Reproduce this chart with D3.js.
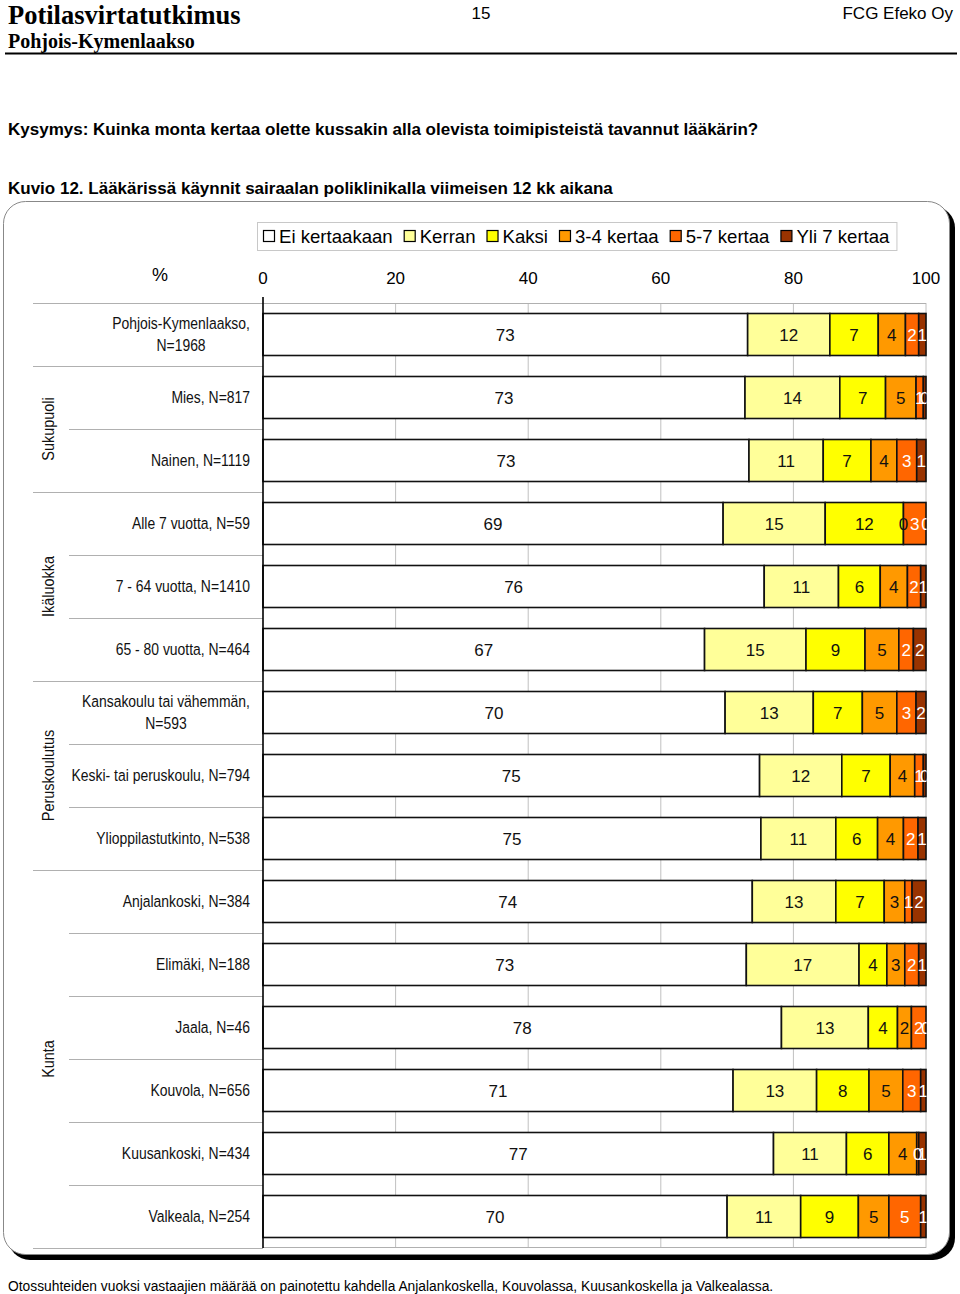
<!DOCTYPE html>
<html>
<head>
<meta charset="utf-8">
<script src="https://cdn.jsdelivr.net/npm/d3@7"></script>
<style>
  body { margin: 0; background: #fff; }
  svg { display: block; }
</style>
</head>
<body>
<svg id="chart" width="960" height="1294"></svg>
<script>
// rows of the chart, top to bottom
const categories = [
  "Pohjois-Kymenlaakso,\nN=1968",
  "Mies, N=817", "Nainen, N=1119",
  "Alle 7 vuotta, N=59", "7 - 64 vuotta, N=1410", "65 - 80 vuotta, N=464",
  "Kansakoulu tai vähemmän,\nN=593", "Keski- tai peruskoulu, N=794", "Ylioppilastutkinto, N=538",
  "Anjalankoski, N=384", "Elimäki, N=188", "Jaala, N=46", "Kouvola, N=656",
  "Kuusankoski, N=434", "Valkeala, N=254"
];
const groupNames = ["", "Sukupuoli", "Ikäluokka", "Peruskoulutus", "Kunta"];
const rowGroup = [0, 1, 1, 2, 2, 2, 3, 3, 3, 4, 4, 4, 4, 4, 4];

const seriesNames = ["Ei kertaakaan", "Kerran", "Kaksi", "3-4 kertaa", "5-7 kertaa", "Yli 7 kertaa"];
const seriesColors = ["#ffffff", "#ffff99", "#ffff00", "#ff9900", "#ff6600", "#993300"];

// percentages per series
const eiKertaakaan = [73.1, 72.7, 73.3, 69.4, 75.6, 66.6, 69.7, 74.9, 75.1, 73.8, 72.9, 78.2, 70.9, 77.0, 70.0];
const kerran       = [12.4, 14.3, 11.2, 15.4, 11.2, 15.3, 13.3, 12.4, 11.3, 12.6, 17.0, 13.1, 12.6, 11.0, 11.1];
const kaksi        = [7.3, 6.9, 7.2, 11.8, 6.3, 8.9, 7.4, 7.3, 6.3, 7.3, 4.2, 4.4, 7.9, 6.4, 8.7];
const kertaa34     = [4.1, 4.6, 3.9, 0, 4.1, 5.1, 5.2, 3.7, 3.9, 3.1, 2.7, 2.1, 5.1, 4.2, 4.6];
const kertaa57     = [2.0, 1.1, 3.0, 3.4, 2.0, 2.2, 2.9, 1.3, 2.2, 1.1, 2.1, 2.2, 2.7, 0.3, 4.8];
const yli7         = [1.1, 0.4, 1.4, 0, 0.8, 1.9, 1.5, 0.4, 1.2, 2.1, 1.1, 0, 0.8, 1.1, 0.8];

const xTicks = [0, 20, 40, 60, 80, 100];

const seriesValues = [eiKertaakaan, kerran, kaksi, kertaa34, kertaa57, yli7];
const table = categories.map((c, i) => {
  const row = { cat: c };
  seriesNames.forEach((s, j) => row[s] = seriesValues[j][i]);
  return row;
});

const svg = d3.select("#chart");
const sans = "'Liberation Sans', Arial, Helvetica, sans-serif";
const serif = "'Liberation Serif', 'Times New Roman', serif";

// no Arial Narrow available: squeeze normal sans horizontally around ax
const condense = (sel, ax, k) =>
  sel.attr("transform", `translate(${ax},0) scale(${k},1) translate(${-ax},0)`);

// ---- page header ----
svg.append("text").attr("x", 8).attr("y", 24)
  .style("font-family", serif).style("font-size", "26.5px").style("font-weight", "bold")
  .text("Potilasvirtatutkimus");
svg.append("text").attr("x", 8).attr("y", 48)
  .style("font-family", serif).style("font-size", "20px").style("font-weight", "bold")
  .text("Pohjois-Kymenlaakso");
svg.append("text").attr("x", 481).attr("y", 19).attr("text-anchor", "middle")
  .style("font-family", sans).style("font-size", "17px").text("15");
svg.append("text").attr("x", 953).attr("y", 19).attr("text-anchor", "end")
  .style("font-family", sans).style("font-size", "17px").text("FCG Efeko Oy");
svg.append("line").attr("x1", 5).attr("x2", 957).attr("y1", 53.5).attr("y2", 53.5)
  .attr("stroke", "#000").attr("stroke-width", 2);

svg.append("text").attr("x", 8).attr("y", 135)
  .style("font-family", sans).style("font-size", "17px").style("font-weight", "bold")
  .text("Kysymys: Kuinka monta kertaa olette kussakin alla olevista toimipisteistä tavannut lääkärin?");
svg.append("text").attr("x", 8).attr("y", 194)
  .style("font-family", sans).style("font-size", "17px").style("font-weight", "bold")
  .text("Kuvio 12. Lääkärissä käynnit sairaalan poliklinikalla viimeisen 12 kk aikana");

svg.append("text").attr("x", 8).attr("y", 1291)
  .style("font-family", sans).style("font-size", "13.8px")
  .text("Otossuhteiden vuoksi vastaajien määrää on painotettu kahdella Anjalankoskella, Kouvolassa, Kuusankoskella ja Valkealassa.");

// ---- frame with shadow ----
svg.append("rect").attr("x", 8).attr("y", 206).attr("width", 947).attr("height", 1054)
  .attr("rx", 22).attr("fill", "#000");
svg.append("rect").attr("x", 3.5).attr("y", 201.5).attr("width", 946).attr("height", 1053)
  .attr("rx", 22).attr("fill", "#fff").attr("stroke", "#888").attr("stroke-width", 1);

// ---- scales ----
const x = d3.scaleLinear().domain([0, 100]).range([263, 926]);
const rows = d3.scaleBand().domain(categories).range([303, 1248]);
const y = d3.scaleBand().domain(categories).range([303, 1248]).paddingInner(1 / 3).paddingOuter(1 / 6);

// ---- legend ----
const legend = svg.append("g");
const legendBox = legend.append("rect").attr("x", 257.5).attr("y", 222.5).attr("height", 28)
  .attr("fill", "#fff").attr("stroke", "#c8c8c8");
let lx = 263;
seriesNames.forEach((s, j) => {
  legend.append("rect").attr("x", lx + 0.5).attr("y", 230.5).attr("width", 11).attr("height", 11)
    .attr("fill", seriesColors[j]).attr("stroke", "#000").attr("stroke-width", 1.2);
  const t = legend.append("text").attr("x", lx + 16).attr("y", 243)
    .style("font-family", sans).style("font-size", "18.6px").text(s);
  lx += 16 + t.node().getComputedTextLength() + 11;
});
legendBox.attr("width", lx - 257 - 4);

// ---- axis labels & grid ----
svg.append("text").attr("x", 160).attr("y", 281).attr("text-anchor", "middle")
  .style("font-family", sans).style("font-size", "18px").text("%");
svg.append("g").selectAll("text").data(xTicks).join("text")
  .attr("x", d => x(d)).attr("y", 284).attr("text-anchor", "middle")
  .style("font-family", sans).style("font-size", "17px").text(d => d);

svg.append("g").selectAll("line").data(xTicks.slice(1)).join("line")
  .attr("x1", d => x(d)).attr("x2", d => x(d)).attr("y1", 303).attr("y2", 1248)
  .attr("stroke", "#c0c0c0").attr("stroke-width", 1);
svg.append("line").attr("x1", 33).attr("x2", x(100)).attr("y1", 303.5).attr("y2", 303.5)
  .attr("stroke", "#b0b0b0");

// row separators on the label side
const seps = categories.slice(1).map((c, i) => ({
  y: rows(c), group: rowGroup[i + 1] !== rowGroup[i]
}));
seps.push({ y: 1248, group: true });
svg.append("g").selectAll("line").data(seps).join("line")
  .attr("x1", d => d.group ? 33 : 69).attr("x2", 263)
  .attr("y1", d => Math.round(d.y) + 0.5).attr("y2", d => Math.round(d.y) + 0.5)
  .attr("stroke", "#b0b0b0").attr("stroke-width", 1.2);
svg.append("line").attr("x1", x(0)).attr("x2", x(100)).attr("y1", 1247.5).attr("y2", 1247.5)
  .attr("stroke", "#b0b0b0");

// ---- bars ----
const stack = d3.stack().keys(seriesNames)(table);
svg.append("clipPath").attr("id", "plotclip").append("rect")
  .attr("x", x(0)).attr("y", 303).attr("width", x(100) - x(0) + 0.5).attr("height", 945);

const layer = svg.append("g").selectAll("g").data(stack).join("g")
  .attr("fill", (d, j) => seriesColors[j]);
layer.selectAll("rect").data(d => d).join("rect")
  .attr("x", d => x(d[0])).attr("width", d => x(d[1]) - x(d[0]))
  .attr("y", d => y(d.data.cat)).attr("height", y.bandwidth())
  .attr("stroke", "#111").attr("stroke-width", 1.6);

const labels = svg.append("g").attr("clip-path", "url(#plotclip)");
stack.forEach((s, j) => {
  labels.selectAll(null).data(s).join("text")
    .attr("x", d => (x(d[0]) + x(d[1])) / 2)
    .attr("y", d => y(d.data.cat) + y.bandwidth() / 2 + 6)
    .attr("text-anchor", "middle")
    .attr("fill", j >= 4 ? "#fff" : "#111")
    .style("font-family", sans).style("font-size", "17px")
    .text(d => Math.round(d[1] - d[0]));
});

// left axis line
svg.append("line").attr("x1", x(0)).attr("x2", x(0)).attr("y1", 297).attr("y2", 1248)
  .attr("stroke", "#000").attr("stroke-width", 1.6);

// ---- row labels ----
const squeeze = 0.82;
categories.forEach(c => {
  const lines = c.split("\n");
  const cy = rows(c) + rows.bandwidth() / 2;
  const t = svg.append("text")
    .style("font-family", sans).style("font-size", "17px").attr("fill", "#111");
  lines.forEach((ln, k) => {
    t.append("tspan").attr("y", cy + 6 + (k - (lines.length - 1) / 2) * 22).text(ln);
  });
  if (lines.length === 1) {
    t.attr("text-anchor", "end").selectAll("tspan").attr("x", 250);
    condense(t, 250, squeeze);
  } else {
    const w = d3.max(t.selectAll("tspan").nodes(), n => n.getComputedTextLength()) * squeeze;
    const cx = 250 - w / 2;
    t.attr("text-anchor", "middle").selectAll("tspan").attr("x", cx);
    condense(t, cx, squeeze);
  }
});

// ---- group labels (rotated) ----
groupNames.forEach((g, gi) => {
  if (!g) return;
  const members = categories.filter((c, i) => rowGroup[i] === gi);
  const top = rows(members[0]);
  const bottom = rows(members[members.length - 1]) + rows.bandwidth();
  const cy = (top + bottom) / 2;
  svg.append("text").attr("transform", `translate(54,${cy}) rotate(-90) scale(0.85,1)`)
    .attr("text-anchor", "middle")
    .style("font-family", sans).style("font-size", "17px").attr("fill", "#111")
    .text(g);
});
</script>
</body>
</html>
